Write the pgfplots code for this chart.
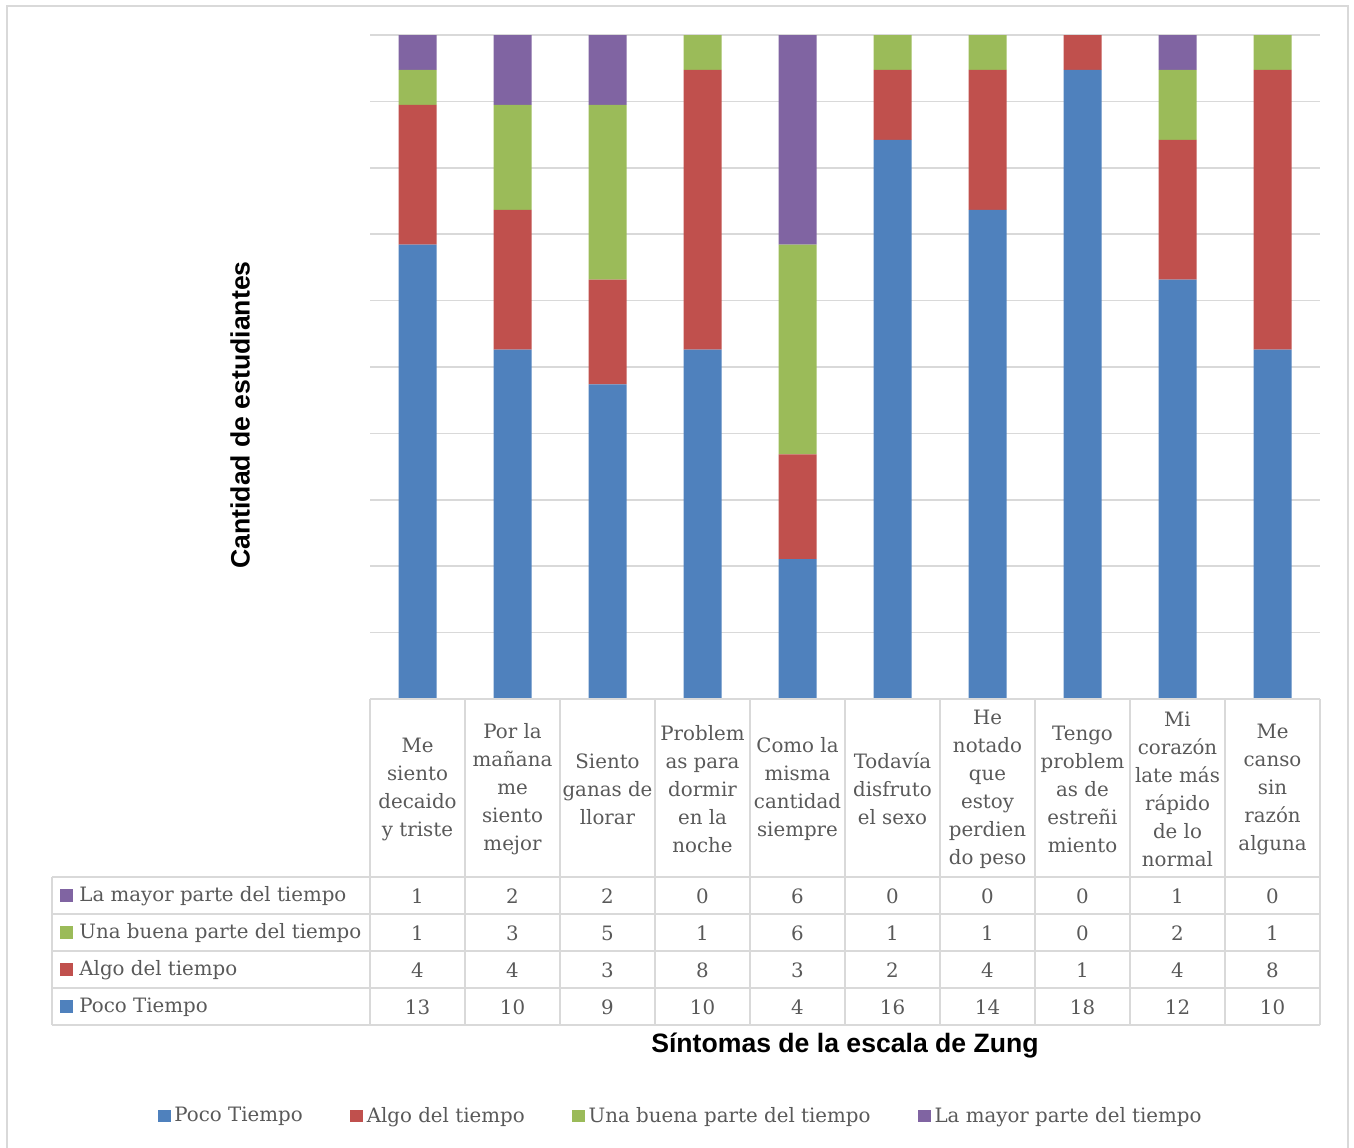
\documentclass[border=0pt]{standalone}
\usepackage{pgfplots}
\pgfplotsset{compat=1.18}
\usepackage{pgfplotstable}
\usepackage{fontspec}
\setmainfont{DejaVu Serif}
\newfontfamily\lsans{Liberation Sans}
\definecolor{cBlue}{HTML}{4F81BD}
\definecolor{cRed}{HTML}{C0504D}
\definecolor{cGreen}{HTML}{9BBB59}
\definecolor{cPurple}{HTML}{8064A2}
\definecolor{txt}{HTML}{595959}
\definecolor{lineg}{HTML}{D9D9D9}

\pgfplotstableread{
x poco algo buena mayor
0.5 13 4 1 1
1.5 10 4 3 2
2.5 9 3 5 2
3.5 10 8 1 0
4.5 4 3 6 6
5.5 16 2 1 0
6.5 14 4 1 0
7.5 18 1 0 0
8.5 12 4 2 1
9.5 10 8 1 0
}\datatable

\newcommand\tf{\fontsize{9.9pt}{14pt}\selectfont}

\begin{document}
\begin{tikzpicture}
\begin{axis}[
  at={(185pt,-349.5pt)}, anchor=south west,
  scale only axis, width=475pt, height=332pt,
  xmin=0, xmax=10, ymin=0, ymax=19,
  ybar stacked, bar width=19pt,
  axis line style={draw=none},
  xtick=\empty,
  ytick={0,1.9,3.8,5.7,7.6,9.5,11.4,13.3,15.2,17.1,19},
  yticklabels={},
  major tick length=0pt,
  ymajorgrids, grid style={color=lineg, line width=0.8pt},
  clip=false,
  legend columns=4,
  legend image code/.code={\fill[#1] (0pt,-3.2pt) rectangle (6.4pt,3.2pt);},
  legend style={at={(0.328,-0.628)}, anchor=center, draw=none, fill=none,
    font=\tf, text=txt, nodes={inner sep=1.8pt},
    /tikz/every even column/.append style={column sep=22pt}},
]
\addplot[fill=cBlue, draw=none] table[x=x, y=poco] {\datatable};
\addplot[fill=cRed, draw=none] table[x=x, y=algo] {\datatable};
\addplot[fill=cGreen, draw=none] table[x=x, y=buena] {\datatable};
\addplot[fill=cPurple, draw=none] table[x=x, y=mayor] {\datatable};
\legend{Poco Tiempo, Algo del tiempo, Una buena parte del tiempo, La mayor parte del tiempo}
\end{axis}
\begin{scope}[x=0.5pt, y=-0.5pt]
\path[use as bounding box] (0,0) rectangle (1354,1147);
\draw[lineg, line width=1pt] (7,6) rectangle (1348,1150);
% table lines
\begin{scope}[lineg, line width=1pt]
\draw (370,699) -- (1320,699);
\foreach \yy in {877,914,951,988,1025} \draw (52,\yy) -- (1320,\yy);
\foreach \xx in {370,465,...,1320} \draw (\xx,699) -- (\xx,1025);
\draw (52,877) -- (52,1025);
\end{scope}
% headers
\begin{scope}[every node/.style={align=center, font=\tf, text=txt, inner sep=0pt}]
\node at (417.5,789) {Me\\siento\\decaido\\y triste};
\node at (512.5,789) {Por la\\mañana\\me\\siento\\mejor};
\node at (607.5,789) {Siento\\ganas de\\llorar};
\node at (702.5,789) {Problem\\as para\\dormir\\en la\\noche};
\node at (797.5,789) {Como la\\misma\\cantidad\\siempre};
\node at (892.5,789) {Todavía\\disfruto\\el sexo};
\node at (987.5,789) {He\\notado\\que\\estoy\\perdien\\do peso};
\node at (1082.5,789) {Tengo\\problem\\as de\\estreñi\\miento};
\node at (1177.5,789) {Mi\\corazón\\late más\\rápido\\de lo\\normal};
\node at (1272.5,789) {Me\\canso\\sin\\razón\\alguna};
% row labels
\fill[cPurple] (60,889) rectangle (73,902);
\fill[cGreen] (60,926) rectangle (73,939);
\fill[cRed] (60,963) rectangle (73,976);
\fill[cBlue] (60,1000) rectangle (73,1013);
\node[anchor=west] at (79,896) {La mayor parte del tiempo};
\node[anchor=west] at (79,933) {Una buena parte del tiempo};
\node[anchor=west] at (79,970) {Algo del tiempo};
\node[anchor=west] at (79,1007) {Poco Tiempo};
\foreach \v [count=\i] in {1,2,2,0,6,0,0,0,1,0} \node at ({370+95*(\i-0.5)},896) {\v};
\foreach \v [count=\i] in {1,3,5,1,6,1,1,0,2,1} \node at ({370+95*(\i-0.5)},933) {\v};
\foreach \v [count=\i] in {4,4,3,8,3,2,4,1,4,8} \node at ({370+95*(\i-0.5)},970) {\v};
\foreach \v [count=\i] in {13,10,9,10,4,16,14,18,12,10} \node at ({370+95*(\i-0.5)},1007) {\v};
\end{scope}
% axis titles
\node[font=\lsans\bfseries\fontsize{13.3pt}{15pt}\selectfont] at (845,1046) {Síntomas de la escala de Zung};
\node[font=\lsans\bfseries\fontsize{13.3pt}{15pt}\selectfont, rotate=90] at (240,415) {Cantidad de estudiantes};
\end{scope}
\end{tikzpicture}
\end{document}
